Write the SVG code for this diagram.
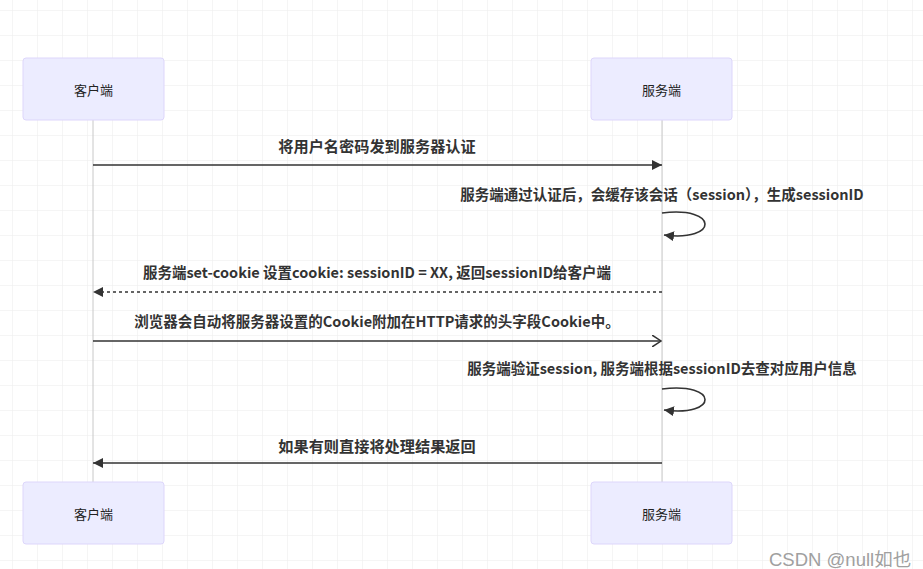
<svg xmlns="http://www.w3.org/2000/svg" width="923" height="569" viewBox="0 0 923 569">
  <defs>
    <pattern id="grid" x="12" y="10" width="25" height="25" patternUnits="userSpaceOnUse">
      <path d="M0,0 H25 M0,0 V25" fill="none" stroke="#ececec" stroke-width="1"/>
    </pattern>
    <marker id="arrow" viewBox="0 0 10 10" refX="10" refY="5" markerWidth="10" markerHeight="10" markerUnits="userSpaceOnUse" orient="auto">
      <path d="M0,0 L10,5 L0,10 z" fill="#333"/>
    </marker>
    <marker id="open" viewBox="0 0 10 12" refX="9" refY="6" markerWidth="10" markerHeight="12" markerUnits="userSpaceOnUse" orient="auto">
      <path d="M0,0 L9,6 L0,12" fill="none" stroke="#333" stroke-width="1.5"/>
    </marker>
    <style>
      .actor rect { fill: #ececff; stroke: #ddd6fb; stroke-width: 1; }
      .actor text { font-family: "Noto Sans CJK SC", "Liberation Sans", sans-serif; font-size: 13px; fill: #222; text-anchor: middle; dominant-baseline: central; }
      .life { stroke: #c8c8c8; stroke-width: 1; }
      .msg { stroke: #333; stroke-width: 1.6; fill: none; }
      .dash { stroke-dasharray: 3 3; }
      .label { font-family: "Noto Sans CJK SC", "Liberation Sans", sans-serif; font-size: 14.5px; font-weight: bold; fill: #333; text-anchor: middle; }
      .big { font-size: 15.2px; }
      .wm { font-family: "Liberation Sans", "Noto Sans CJK SC", sans-serif; font-size: 18.5px; fill: #a0a0a0; }
    </style>
  </defs>
  <rect width="923" height="569" fill="#ffffff"/>
  <rect width="923" height="569" fill="url(#grid)"/>

  <g id="lifelines">
    <line class="life" x1="93" y1="120" x2="93" y2="482"/>
    <line class="life" x1="662" y1="120" x2="662" y2="482"/>
  </g>

  <g id="client-top" class="actor">
    <rect x="23" y="58" width="141" height="62" rx="3"/>
    <text x="93.5" y="89">客户端</text>
  </g>
  <g id="server-top" class="actor">
    <rect x="591" y="58" width="141" height="62" rx="3"/>
    <text x="661.5" y="89">服务端</text>
  </g>
  <g id="client-bottom" class="actor">
    <rect x="23" y="482" width="141" height="62" rx="3"/>
    <text x="93.5" y="513">客户端</text>
  </g>
  <g id="server-bottom" class="actor">
    <rect x="591" y="482" width="141" height="62" rx="3"/>
    <text x="661.5" y="513">服务端</text>
  </g>

  <g id="connectors">
    <line class="msg" x1="93" y1="165" x2="662" y2="165" marker-end="url(#arrow)"/>
    <path class="msg" d="M662,213 C719,206 719,242 664,235" marker-end="url(#arrow)"/>
    <line class="msg dash" x1="662" y1="292" x2="93" y2="292" marker-end="url(#arrow)"/>
    <line class="msg" x1="93" y1="341" x2="661" y2="341" marker-end="url(#open)"/>
    <path class="msg" d="M662,389 C719,382 719,417 664,410" marker-end="url(#arrow)"/>
    <line class="msg" x1="662" y1="463" x2="93" y2="463" marker-end="url(#arrow)"/>
  </g>

  <g id="labels">
    <text class="label big" x="377" y="152">将用户名密码发到服务器认证</text>
    <text class="label" x="662" y="200">服务端通过认证后，会缓存该会话（session），生成sessionID</text>
    <text class="label" x="377" y="278">服务端set-cookie 设置cookie: sessionID = XX, 返回sessionID给客户端</text>
    <text class="label" x="377" y="327">浏览器会自动将服务器设置的Cookie附加在HTTP请求的头字段Cookie中。</text>
    <text class="label" x="662" y="374">服务端验证session, 服务端根据sessionID去查对应用户信息</text>
    <text class="label big" x="377" y="452">如果有则直接将处理结果返回</text>
  </g>

  <text class="wm" x="769" y="566">CSDN @null如也</text>
</svg>
